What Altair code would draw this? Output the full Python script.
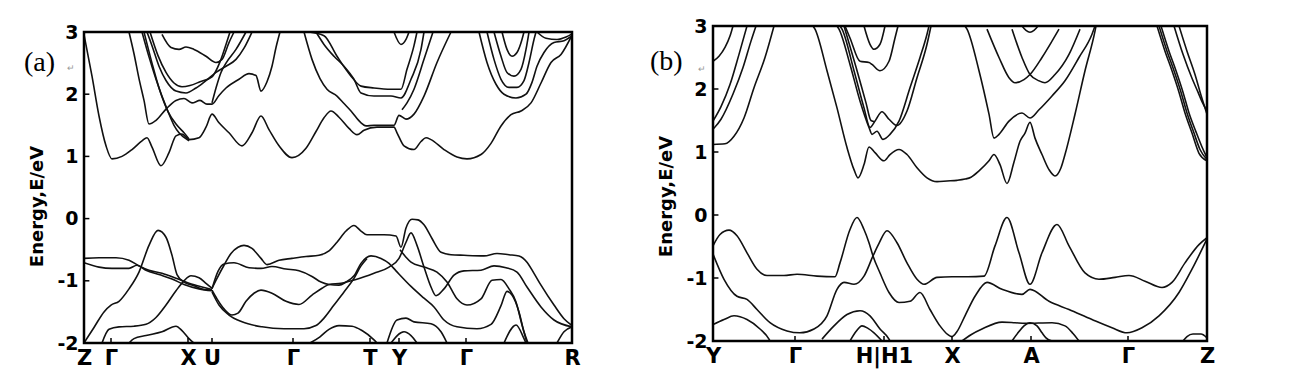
import altair as alt
import pandas as pd

# ---------------- panel (a): symmetry points (k in path units) ----------------
A_SYM_K = [0, 27, 104, 128, 209, 286, 315, 382, 488]
A_SYM_LABELS = ["Z", "Γ", "X", "U", "Γ", "T", "Y", "Γ", "R"]

# conduction bands (k, E/eV)
A_C1 = [(0, 2.96), (8, 2.29), (15, 1.65), (22, 1.17), (28, 0.96), (38, 1.0), (48, 1.11), (58, 1.25), (63, 1.30),
        (68, 1.15), (77, 0.85), (85, 1.06), (92, 1.33), (98, 1.36), (105, 1.27), (115, 1.30), (122, 1.47),
        (128, 1.68), (135, 1.54), (145, 1.38), (158, 1.17), (168, 1.38), (177, 1.65), (185, 1.43), (195, 1.17),
        (208, 0.98), (222, 1.13), (232, 1.40), (240, 1.62), (247, 1.73), (255, 1.63), (265, 1.45), (273, 1.35),
        (280, 1.42), (293, 1.47), (310, 1.47), (313, 1.38), (320, 1.17), (330, 1.11), (337, 1.24), (342, 1.30),
        (347, 1.27), (360, 1.11), (373, 0.99), (383, 0.96), (397, 1.03), (407, 1.21), (417, 1.49), (427, 1.67),
        (437, 1.73), (447, 1.86), (457, 2.18), (467, 2.51), (477, 2.64), (488, 2.95)]
A_C2 = [(220, 3.0), (228, 2.56), (236, 2.25), (243, 2.08), (253, 1.97), (260, 1.85), (267, 1.73), (277, 1.54),
        (282, 1.49), (290, 1.50), (310, 1.50), (315, 1.66), (322, 1.60), (330, 1.68), (340, 1.97), (353, 2.51),
        (367, 3.0)]
A_C3 = [(58, 3.0), (65, 2.6), (72, 2.24), (83, 1.76), (90, 1.50), (95, 1.38), (105, 1.25)]
A_C4 = [(45, 3.0), (50, 2.65), (55, 2.25), (60, 1.9), (65, 1.52), (72, 1.58), (82, 1.76), (92, 1.90), (100, 1.93),
        (108, 1.86), (116, 1.90), (123, 1.84), (128, 1.84), (135, 1.98), (142, 2.10), (155, 2.24), (165, 2.33),
        (172, 2.30), (177, 2.05), (183, 2.20), (188, 2.45), (192, 2.75), (196, 3.0)]
A_C5 = [(63, 3.0), (68, 2.78), (75, 2.45), (82, 2.22), (92, 2.05), (102, 2.02), (112, 2.10), (122, 2.22),
        (132, 2.35), (142, 2.45), (152, 2.56), (160, 2.74), (168, 3.0)]
A_C6 = [(78, 2.96), (87, 2.75), (95, 2.72), (102, 2.76), (110, 2.72), (122, 2.61), (132, 2.51), (138, 2.56),
        (145, 2.83), (150, 3.0)]
A_C7 = [(66, 3.0), (74, 2.62), (82, 2.35), (90, 2.18), (98, 2.12), (106, 2.14), (116, 2.20), (128, 2.28),
        (136, 2.52), (142, 2.8), (146, 3.0)]
A_C8 = [(128, 1.86), (132, 2.1), (137, 2.35), (142, 2.5), (152, 2.72), (162, 3.0)]
A_C9 = [(60, 3.0), (68, 2.5), (76, 2.05), (84, 1.72), (92, 1.52), (100, 1.38), (105, 1.28)]
A_C10 = [(225, 3.0), (240, 2.94), (253, 2.61), (267, 2.29), (277, 2.13), (290, 2.10), (307, 2.08), (317, 2.08),
         (323, 2.40), (330, 2.78), (333, 3.0)]
A_C11 = [(232, 3.0), (240, 2.80), (250, 2.61), (260, 2.45), (270, 2.24), (277, 2.02), (290, 1.97), (307, 1.97),
         (317, 1.94), (327, 2.24), (337, 2.72), (340, 3.0)]
A_C12 = [(318, 1.75), (323, 1.86), (330, 2.08), (340, 2.56), (349, 3.0)]
A_C13 = [(310, 3.0), (317, 2.80), (322, 2.88), (325, 3.0)]
A_C14 = [(395, 3.0), (403, 2.51), (412, 2.16), (420, 2.0), (432, 1.94), (442, 2.0), (448, 2.19), (453, 2.45),
         (460, 2.67), (470, 2.83), (480, 2.86), (488, 2.94)]
A_C15 = [(403, 3.0), (410, 2.56), (417, 2.24), (425, 2.11), (433, 2.11), (440, 2.22), (445, 2.51), (450, 2.88),
         (452, 3.0)]
A_C16 = [(410, 3.0), (417, 2.61), (423, 2.35), (430, 2.29), (437, 2.40), (442, 2.72), (445, 3.0)]
A_C17 = [(418, 3.0), (423, 2.72), (428, 2.61), (433, 2.67), (438, 2.88), (440, 3.0)]
A_C18 = [(453, 3.0), (462, 2.90), (473, 2.88), (482, 2.92), (488, 2.97)]

# valence bands (k, E/eV)
A_V1 = [(0, -0.64), (15, -0.63), (32, -0.63), (45, -0.67), (55, -0.76), (65, -0.83), (78, -0.88), (92, -0.96),
        (105, -1.04), (118, -1.10), (128, -1.14)]
A_V2 = [(0, -0.71), (15, -0.78), (28, -0.80), (45, -0.80), (53, -0.75), (62, -0.83), (75, -0.90), (88, -0.97),
        (100, -1.06), (115, -1.13), (128, -1.16)]
A_V3 = [(0, -2.0), (10, -1.75), (20, -1.5), (27, -1.39), (35, -1.33), (45, -1.13), (55, -0.86), (65, -0.43),
        (74, -0.19), (82, -0.30), (88, -0.59), (93, -0.90), (100, -1.02), (110, -1.08), (120, -1.14), (128, -1.15)]
A_V4 = [(18, -2.0), (25, -1.78), (35, -1.74), (50, -1.73), (62, -1.70), (72, -1.59), (82, -1.39), (92, -1.16),
        (100, -1.0), (107, -0.92), (115, -0.95), (122, -1.04), (128, -1.12)]
A_V5 = [(45, -2.0), (50, -1.93), (62, -1.88), (78, -1.82), (92, -1.73), (98, -1.80), (105, -1.93), (110, -2.0)]
A_V6 = [(128, -1.12), (133, -0.96), (140, -0.75), (147, -0.56), (154, -0.46), (160, -0.43), (168, -0.48),
        (177, -0.64), (183, -0.74), (195, -0.67), (208, -0.64), (222, -0.61), (235, -0.59), (245, -0.52),
        (253, -0.38), (262, -0.20), (270, -0.11), (277, -0.20), (283, -0.26), (300, -0.26), (312, -0.28),
        (317, -0.46), (322, -0.15), (328, -0.01), (334, -0.02), (340, -0.10), (348, -0.32), (357, -0.54),
        (367, -0.58), (380, -0.59), (400, -0.60), (413, -0.56), (425, -0.58), (435, -0.60), (443, -0.70),
        (450, -0.88), (457, -1.07), (470, -1.39), (480, -1.61), (488, -1.72)]
A_V7 = [(128, -1.13), (134, -0.85), (140, -0.73), (150, -0.71), (165, -0.79), (177, -0.80), (188, -0.77),
        (202, -0.81), (215, -0.84), (228, -0.93), (237, -1.02), (245, -1.06), (255, -1.07), (262, -1.02),
        (270, -0.92), (277, -0.72), (287, -0.60), (297, -0.64), (305, -0.72), (312, -0.84), (327, -1.09),
        (340, -1.28), (350, -1.42), (360, -1.63), (373, -1.74), (393, -1.77), (407, -1.70), (417, -1.40),
        (423, -1.17), (428, -1.23), (435, -1.50), (440, -1.82), (444, -2.0)]
A_V8 = [(128, -1.15), (133, -1.29), (140, -1.45), (148, -1.55), (154, -1.52), (162, -1.33), (170, -1.20),
        (177, -1.15), (188, -1.20), (202, -1.33), (215, -1.38), (228, -1.23), (238, -1.12), (245, -1.06),
        (257, -1.04), (272, -0.98), (290, -0.88), (305, -0.78), (315, -0.64), (322, -0.38), (327, -0.23),
        (333, -0.43), (340, -0.78), (347, -1.10), (352, -1.24), (360, -1.13), (370, -0.91), (380, -0.84),
        (397, -0.83), (410, -0.76), (422, -0.79), (433, -0.86), (443, -1.10), (457, -1.42), (470, -1.63),
        (488, -1.74)]
A_V9 = [(128, -1.18), (135, -1.39), (145, -1.55), (158, -1.66), (178, -1.74), (200, -1.77), (220, -1.77),
        (232, -1.72), (240, -1.60), (250, -1.39), (260, -1.18), (270, -0.96), (277, -0.76), (283, -0.64)]
A_V10 = [(316, -0.50), (322, -0.62), (327, -0.70), (340, -0.78), (353, -0.86), (363, -1.02), (373, -1.29),
         (383, -1.39), (397, -1.29), (408, -0.99), (417, -0.98), (425, -1.13), (432, -1.34), (438, -1.71),
         (443, -2.0)]
A_V11 = [(226, -2.0), (236, -1.90), (245, -1.78), (255, -1.72), (268, -1.73), (278, -1.80), (290, -1.95), (293, -2.0)]
A_V12 = [(303, -2.0), (313, -1.63), (322, -1.60), (330, -1.66), (347, -1.69), (357, -1.82), (363, -2.0)]
A_V13 = [(307, -2.0), (320, -1.82), (327, -1.88), (333, -2.0)]
A_V14 = [(420, -2.0), (432, -1.71), (440, -1.93), (442, -2.0)]
A_V15 = [(473, -2.0), (480, -1.82), (488, -1.74)]

A_BANDS = [A_C1, A_C2, A_C3, A_C4, A_C5, A_C6, A_C7, A_C8, A_C9, A_C10, A_C11, A_C12, A_C13, A_C14, A_C15,
           A_C16, A_C17, A_C18, A_V1, A_V2, A_V3, A_V4, A_V5, A_V6, A_V7, A_V8, A_V9, A_V10, A_V11, A_V12,
           A_V13, A_V14, A_V15]

# ---------------- panel (b) ----------------
B_SYM_K = [0, 82, 171, 239, 318, 415, 494]
B_SYM_LABELS = ["Y", "Γ", "H|H1", "X", "A", "Γ", "Z"]

B_C1 = [(0, 2.44), (6, 2.52), (12, 2.66), (17, 2.84), (20, 3.0)]
B_C2 = [(0, 1.49), (8, 1.72), (17, 2.07), (26, 2.55), (34, 3.0)]
B_C3 = [(0, 1.36), (8, 1.52), (20, 1.92), (30, 2.34), (38, 2.76), (43, 3.0)]
B_C4 = [(0, 1.12), (12, 1.13), (21, 1.25), (31, 1.54), (41, 2.02), (52, 2.50), (61, 3.0)]
B_C5 = [(100, 3.0), (102, 2.95), (114, 2.29), (124, 1.70), (134, 1.07), (141, 0.72), (145, 0.59), (151, 0.80),
        (156, 1.08), (162, 0.99), (171, 0.86), (177, 0.96), (186, 1.04), (194, 0.96), (204, 0.75), (214, 0.59),
        (224, 0.53), (234, 0.54), (244, 0.55), (252, 0.57), (258, 0.60), (266, 0.70), (276, 0.86), (281, 0.96),
        (287, 0.80), (294, 0.50), (301, 0.84), (307, 1.17), (312, 1.30), (317, 1.47), (322, 1.22), (329, 0.96),
        (336, 0.72), (342, 0.62), (348, 0.75), (352, 0.96), (362, 1.60), (372, 2.29), (382, 2.92), (383, 3.0)]
B_C6 = [(252, 3.0), (254, 2.95), (266, 2.29), (276, 1.60), (281, 1.22), (286, 1.28), (296, 1.49), (309, 1.62),
        (317, 1.54), (326, 1.67), (339, 1.89), (352, 2.13), (366, 2.50), (379, 2.87), (382, 3.0)]
B_C7 = [(274, 2.95), (286, 2.50), (296, 2.18), (302, 2.10), (311, 2.15), (317, 2.23), (329, 2.50), (339, 2.76),
        (346, 2.95)]
B_C8 = [(299, 2.95), (309, 2.50), (317, 2.23), (326, 2.13), (332, 2.10), (342, 2.23), (356, 2.55), (367, 2.95)]
B_C9 = [(309, 3.0), (313, 2.93), (317, 2.90), (321, 2.93), (325, 3.0)]
B_C10 = [(444, 3.0), (452, 2.6), (459, 2.29), (466, 1.95), (472, 1.62), (479, 1.30), (486, 0.98), (494, 0.86)]
B_C11 = [(446, 3.0), (454, 2.6), (461, 2.29), (468, 1.95), (474, 1.62), (481, 1.30), (487, 1.04), (494, 0.88)]
B_C12 = [(448, 3.0), (456, 2.6), (463, 2.29), (470, 1.95), (476, 1.62), (483, 1.32), (489, 1.08), (494, 0.91)]
B_C13 = [(461, 3.0), (470, 2.55), (479, 2.17), (485, 1.95), (489, 1.80), (494, 1.65)]
B_C14 = [(466, 3.0), (474, 2.6), (482, 2.23), (488, 1.9), (494, 1.60)]
B_C15 = [(124, 3.0), (126, 2.95), (137, 2.39), (147, 1.81), (156, 1.39), (159, 1.28), (164, 1.33), (170, 1.20),
         (177, 1.28), (186, 1.49), (197, 2.02), (207, 2.50), (214, 2.87), (216, 3.0)]
B_C16 = [(127, 3.0), (129, 2.95), (141, 2.29), (151, 1.70), (157, 1.39), (162, 1.49), (169, 1.64), (176, 1.52),
         (184, 1.42), (194, 1.65), (204, 2.18), (214, 2.71), (218, 3.0)]
B_C17 = [(131, 3.0), (143, 2.35), (153, 1.78), (158, 1.50), (162, 1.48)]
B_C18 = [(151, 3.0), (157, 2.71), (161, 2.63), (167, 2.71), (172, 3.0)]
B_C19 = [(132, 3.0), (137, 2.81), (147, 2.44), (156, 2.42), (159, 2.39), (167, 2.29), (176, 2.44), (182, 2.81),
         (185, 3.0)]

B_V1 = [(0, -0.49), (7, -0.31), (16, -0.24), (24, -0.33), (34, -0.60), (44, -0.86), (54, -0.96), (71, -0.96),
        (84, -0.94), (104, -0.97), (122, -0.98), (127, -0.76), (137, -0.23), (144, -0.04), (151, -0.23),
        (156, -0.44), (160, -0.65), (167, -0.92), (176, -1.23), (186, -1.39), (197, -1.37), (207, -1.23),
        (217, -1.50), (227, -1.76), (235, -1.90), (239, -1.93), (244, -1.85), (252, -1.60), (262, -1.29),
        (274, -1.07), (289, -1.18), (309, -1.26), (317, -1.18), (336, -1.37), (356, -1.50), (379, -1.66),
        (399, -1.79), (414, -1.87), (429, -1.79), (446, -1.60), (466, -1.23), (479, -0.86), (494, -0.38)]
B_V2 = [(0, -0.62), (11, -1.02), (24, -1.29), (34, -1.34), (44, -1.50), (57, -1.71), (74, -1.84), (87, -1.87),
        (101, -1.81), (114, -1.60), (124, -1.18), (131, -1.07), (141, -1.10), (151, -0.97), (160, -0.65),
        (166, -0.45), (174, -0.25), (184, -0.44), (194, -0.76), (204, -1.02), (211, -1.10), (224, -0.99),
        (239, -0.98), (255, -0.98), (271, -0.97), (282, -0.49), (294, -0.04), (306, -0.60), (317, -1.10),
        (329, -0.60), (344, -0.15), (356, -0.49), (372, -0.92), (386, -1.02), (402, -0.99), (416, -0.96),
        (432, -1.05), (449, -1.15), (459, -1.07), (472, -0.76), (486, -0.47), (494, -0.36)]
B_V3 = [(0, -1.74), (11, -1.66), (21, -1.60), (34, -1.66), (47, -1.81), (56, -1.97), (57, -2.0)]
B_V4 = [(109, -1.97), (121, -1.76), (134, -1.58), (147, -1.52), (157, -1.60), (167, -1.81), (176, -1.97), (177, -2.0)]
B_V5 = [(137, -2.0), (143, -1.85), (149, -1.76), (155, -1.80), (161, -1.87), (169, -2.0)]
B_V6 = [(249, -2.0), (258, -1.9), (269, -1.81), (289, -1.70), (302, -1.71), (312, -1.72), (339, -1.71),
        (352, -1.76), (360, -1.88), (366, -2.0)]
B_V7 = [(299, -2.0), (306, -1.85), (311, -1.76), (317, -1.71), (324, -1.76), (329, -1.87), (333, -1.95), (339, -2.0)]
B_V8 = [(470, -2.0), (474, -1.93), (480, -1.89), (488, -1.89), (494, -1.95)]

B_BANDS = [B_C1, B_C2, B_C3, B_C4, B_C5, B_C6, B_C7, B_C8, B_C9, B_C10, B_C11, B_C12, B_C13, B_C14, B_C15,
           B_C16, B_C17, B_C18, B_C19, B_V1, B_V2, B_V3, B_V4, B_V5, B_V6, B_V7, B_V8]

E_TICKS = [-2, -1, 0, 1, 2, 3]
E_MIN, E_MAX = -2, 3


def band_frame(bands, tag):
    rows = []
    for i, band in enumerate(bands):
        for j, (k, e) in enumerate(band):
            rows.append({"band": f"{tag}{i}", "k": k, "E": e, "o": j})
    return pd.DataFrame(rows)


def tick_frame(sym_k, kmax):
    rows = []
    for k in sym_k[1:-1]:
        rows.append({"k": k, "k2": k, "E": E_MIN, "E2": E_MIN + 0.08})
    for e in E_TICKS[1:-1]:
        rows.append({"k": 0, "k2": kmax * 0.011, "E": e, "E2": e})
    return pd.DataFrame(rows)


def panel(bands, sym_k, sym_labels, tag, width, height, e_top, label_xy, mark_xy, title_y):
    kmax = sym_k[-1]
    label_expr = "[" + ",".join(f"'{s}'" for s in sym_labels) + "][indexof([" + ",".join(
        str(k) for k in sym_k) + "], datum.value)]"
    xscale = alt.Scale(domain=[0, kmax], nice=False, zero=False)
    yscale = alt.Scale(domain=[E_MIN, e_top], nice=False, zero=False)
    xaxis = alt.Axis(values=sym_k, labelExpr=label_expr, title=None, ticks=False, grid=False, domain=False,
                     labelFont="DejaVu Sans", labelFontWeight="bold", labelFontSize=21, labelColor="black",
                     labelPadding=4, labelOverlap=False, labelFlush=False)
    yaxis = alt.Axis(values=E_TICKS, labelExpr="datum.value", title="Energy,E/eV", ticks=False, grid=False,
                     domain=False, labelFont="DejaVu Sans", labelFontWeight="bold", labelFontSize=19,
                     labelColor="black", labelPadding=6, labelOverlap=False, labelFlush=False,
                     titleFont="DejaVu Sans", titleFontWeight="bold", titleFontSize=18, titleColor="black",
                     titlePadding=10, titleY=title_y)
    lines = alt.Chart(band_frame(bands, tag)).mark_line(
        color="#111111", strokeWidth=1.6, interpolate="monotone", clip=True
    ).encode(
        x=alt.X("k:Q", scale=xscale, axis=xaxis),
        y=alt.Y("E:Q", scale=yscale, axis=yaxis),
        detail="band:N",
        order="o:Q",
    )
    ticks = alt.Chart(tick_frame(sym_k, kmax)).mark_rule(color="black", strokeWidth=1.5).encode(
        x=alt.X("k:Q", scale=xscale), x2="k2:Q",
        y=alt.Y("E:Q", scale=yscale), y2="E2:Q",
    )
    frame = alt.Chart(pd.DataFrame({"k": [0], "k2": [kmax], "E": [E_MIN], "E2": [E_MAX]})).mark_rect(
        fill="transparent", stroke="black", strokeWidth=2.5
    ).encode(
        x=alt.X("k:Q", scale=xscale), x2="k2:Q",
        y=alt.Y("E:Q", scale=yscale), y2="E2:Q",
    )
    lab = alt.Chart(pd.DataFrame({"t": [f"({tag})"]})).mark_text(
        font="Liberation Serif", fontSize=28, align="left", baseline="middle", color="black"
    ).encode(x=alt.value(label_xy[0]), y=alt.value(label_xy[1]), text="t:N")
    mark = alt.Chart(pd.DataFrame({"t": ["↵"]})).mark_text(
        fontSize=9, align="left", baseline="middle", color="#999999"
    ).encode(x=alt.value(mark_xy[0]), y=alt.value(mark_xy[1]), text="t:N")
    return alt.layer(lines, ticks, frame, lab, mark).properties(
        width=width, height=height,
        view=alt.ViewBackground(stroke="transparent", fill="white"),
    )


# panel (a) sits 6 px lower than (b) in the figure: its scale reaches a bit above 3 eV
A_E_TOP = E_MAX + 6 / 62.2
chart_a = panel(A_BANDS, A_SYM_K, A_SYM_LABELS, "a", 488, 317, A_E_TOP, (-60, 37), (-17, 42), 180)
chart_b = panel(B_BANDS, B_SYM_K, B_SYM_LABELS, "b", 494, 315, E_MAX, (-63, 36), (-15, 43), 170)

chart = alt.hconcat(chart_a, chart_b, spacing=68).properties(
    padding={"left": 15, "top": 8, "right": 5, "bottom": 5}
).configure_view(stroke="transparent").configure(background="white")

chart.save("out.html", embed_options={"renderer": "svg", "actions": False})
